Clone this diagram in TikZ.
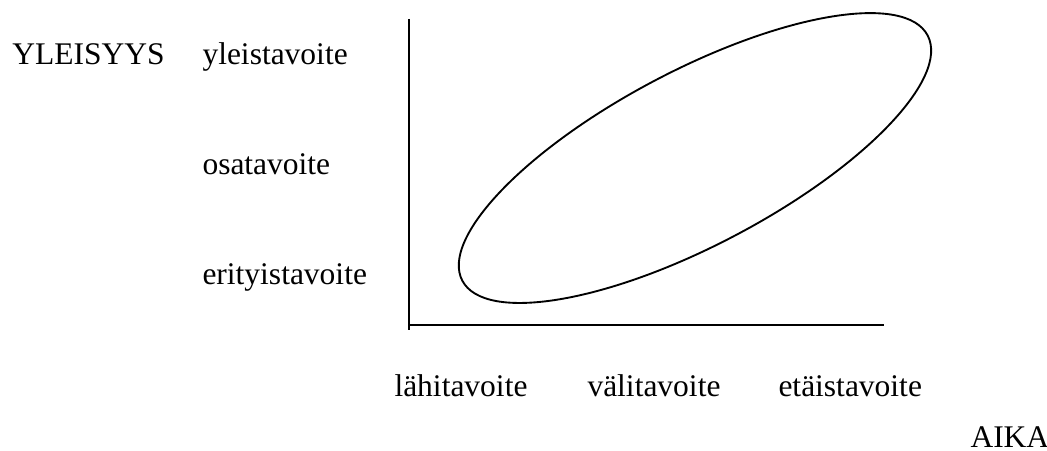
\documentclass[tikz,border=0pt]{standalone}
\usepackage{fontspec}
\setmainfont{Liberation Serif}
\usepackage{tikz}

\tikzset{
	teksti/.style={anchor=base west,inner sep=0pt,font=\fontsize{12.6}{14}\selectfont},
	viiva/.style={line width=0.75pt}
}

\begin{document}
\begin{tikzpicture}[x=0.4pt,y=0.4pt]
					\useasboundingbox (0,0) rectangle (1047,451);
					
					\coordinate (ytop) at (409,432);
					\coordinate (ybot) at (409,121);
					\coordinate (origo) at (409,126);
					\coordinate (xend) at (884,126);
					\coordinate (keski) at (695,293);
					
					\draw[viiva] (ytop) -- (ybot);
					\draw[viiva] (origo) -- (xend);
					\draw[viiva, rotate around={27.8:(keski)}] (keski) ellipse (105.2pt and 34.9pt);
					
					\node[teksti] (yleisyys) at (12,386) {YLEISYYS};
					\node[teksti] (yleis) at (202,386) {yleistavoite};
					\node[teksti] (osa) at (202,276) {osatavoite};
					\node[teksti] (erityis) at (202,166) {erityistavoite};
					\node[teksti] (lahi) at (394,54) {lähitavoite};
					\node[teksti] (vali) at (587,54) {välitavoite};
					\node[teksti] (etai) at (778,54) {etäistavoite};
					\node[teksti] (aika) at (970,3) {AIKA};
				\end{tikzpicture}
\end{document}
